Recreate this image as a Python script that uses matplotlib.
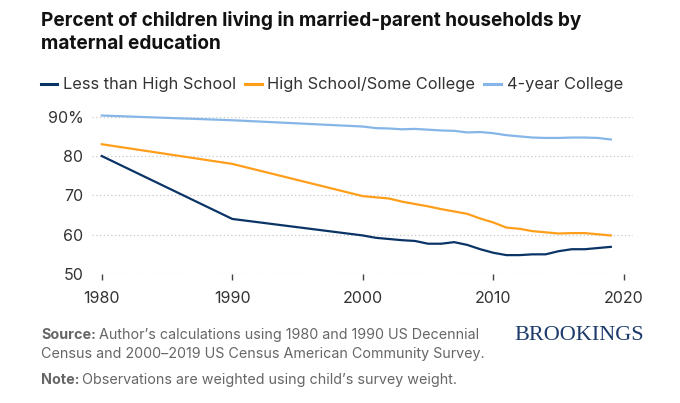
import matplotlib
matplotlib.use("Agg")
import matplotlib.pyplot as plt
from matplotlib.lines import Line2D

plt.rcParams['font.family'] = ['Inter', 'DejaVu Sans']

years = [1980, 1990] + list(range(2000, 2020))
less_hs = [80.0, 64.0, 59.8, 59.2, 58.9, 58.6, 58.4, 57.7, 57.7, 58.1, 57.4, 56.3,
           55.4, 54.8, 54.8, 55.0, 55.0, 55.8, 56.3, 56.3, 56.6, 56.9]
hs_some = [83.0, 78.0, 69.8, 69.5, 69.2, 68.4, 67.8, 67.2, 66.5, 65.9, 65.3, 64.1,
           63.1, 61.8, 61.5, 60.9, 60.6, 60.3, 60.4, 60.4, 60.1, 59.8]
college = [90.3, 89.1, 87.5, 87.1, 87.0, 86.8, 86.9, 86.7, 86.5, 86.4, 86.0, 86.1,
           85.8, 85.3, 85.0, 84.7, 84.6, 84.6, 84.7, 84.7, 84.6, 84.2]
series_names = ["Less than High School", "High School/Some College", "4-year College"]
series_colors = ["#0b3466", "#ff9e1b", "#86b6e8"]
yticks = [50, 60, 70, 80, 90]
ytick_labels = ["50", "60", "70", "80", "90%"]
xticks = [1980, 1990, 2000, 2010, 2020]

W, H = 680, 403
fig = plt.figure(figsize=(W / 100, H / 100), dpi=100)

def fx(px):
    return px / W

def fy(py):
    return 1 - py / H

left, right, top, bottom = 91.7, 633, 116.7, 274
ax = fig.add_axes([fx(left), fy(bottom), (right - left) / W, (bottom - top) / H])

for vals, name, col in zip([less_hs, hs_some, college], series_names, series_colors):
    ax.plot(years, vals, color=col, lw=1.6, label=name, solid_joinstyle='round',
            clip_on=False)

ax.set_ylim(50, 90)
ax.set_xlim(1979.23, 2020.7)
ax.set_yticks(yticks)
ax.set_yticklabels(ytick_labels)
ax.set_xticks(xticks)
ax.grid(axis='y', color='#c8c8c8', linestyle=(0, (1, 2)), linewidth=0.9)
ax.set_axisbelow(True)
for s in ax.spines.values():
    s.set_visible(False)
ax.tick_params(axis='y', length=0, pad=6, labelsize=11.5, labelcolor='#333333')
ax.tick_params(axis='x', length=4, width=1, color='#444444', pad=8, labelsize=11.5,
               labelcolor='#333333')

# Title
fig.text(fx(41), fy(26), "Percent of children living in married-parent households by",
         fontsize=13.7, fontweight='bold', color='#111111', va='baseline', ha='left')
fig.text(fx(41), fy(49), "maternal education",
         fontsize=13.7, fontweight='bold', color='#111111', va='baseline', ha='left')

# Legend
handles = [Line2D([], [], color=c, lw=2.2) for c in series_colors]
fig.legend(handles, series_names, loc='center left', bbox_to_anchor=(fx(41), fy(85)),
           ncol=3, frameon=False, fontsize=11.8, handlelength=1.0, handletextpad=0.35,
           columnspacing=0.55, labelcolor='#333333', borderaxespad=0, borderpad=0)

# Footer
fig.canvas.draw()
r = fig.canvas.get_renderer()
grey = '#666666'
fs = 10.3
t1 = fig.text(fx(41), fy(339), "Source:", fontsize=fs, fontweight='bold', color=grey,
              va='baseline')
w1 = t1.get_window_extent(r).width
fig.text(fx(41 + w1 + 3), fy(339), "Author\u2019s calculations using 1980 and 1990 US Decennial",
         fontsize=fs, color=grey, va='baseline')
fig.text(fx(41), fy(358), "Census and 2000\u20132019 US Census American Community Survey.",
         fontsize=fs, color=grey, va='baseline')
t2 = fig.text(fx(41), fy(384), "Note:", fontsize=fs, fontweight='bold', color=grey,
              va='baseline')
w2 = t2.get_window_extent(r).width
fig.text(fx(41 + w2 + 3), fy(384), "Observations are weighted using child\u2019s survey weight.",
         fontsize=fs, color=grey, va='baseline')

fig.text(fx(514), fy(340), "BROOKINGS", fontsize=16, color='#1c3b6b',
         family=['Liberation Serif', 'DejaVu Serif'], va='baseline', ha='left')

fig.savefig("out.png", dpi=100)
